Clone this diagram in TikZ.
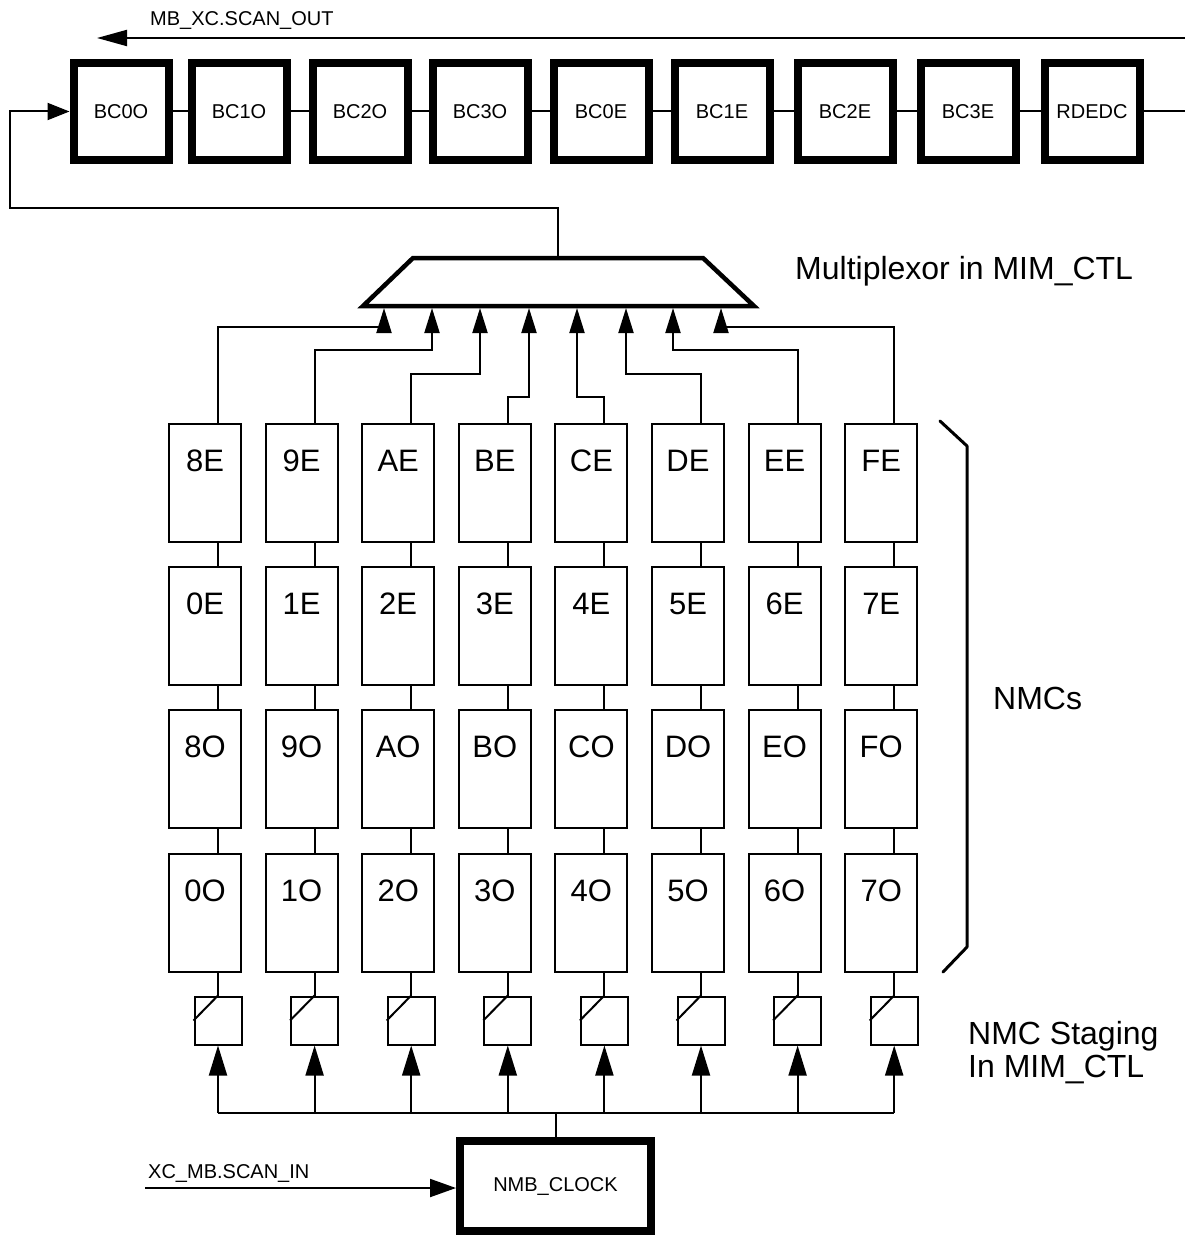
\documentclass[tikz,border=0pt]{standalone}
\usepackage{fontspec}
\setmainfont{Liberation Sans}
\usetikzlibrary{arrows.meta,calc}
\begin{document}
\begin{tikzpicture}[x=1pt,y=-1pt,
  wire/.style={line width=2pt},
  smallfont/.style={font=\fontsize{20}{24}\selectfont},
  bigfont/.style={font=\fontsize{32}{38}\selectfont},
  bcbox/.style={draw, line width=8pt, minimum width=95pt, minimum height=97pt, inner sep=0pt, smallfont},
  clkbox/.style={draw, line width=8pt, minimum width=191pt, minimum height=90pt, inner sep=0pt, smallfont},
  nmcbox/.style={draw, line width=2pt, minimum width=72pt, minimum height=118pt, inner sep=0pt},
  nmclbl/.style={font=\fontsize{31}{36}\selectfont, inner sep=0pt},
  stagebox/.style={draw, line width=2pt, minimum width=47pt, minimum height=48pt, inner sep=0pt},
  muxarrow/.style={wire, -{Triangle[length=25pt,width=15pt]}},
  stagearrow/.style={wire, -{Triangle[length=30pt,width=18pt]}},
  inarrow/.style={wire, -{Triangle[length=26pt,width=18pt]}},
  lbl/.style={anchor=base west, inner sep=0pt}
]
\useasboundingbox (0,0) rectangle (1185,1236);

% ---- top scan chain ----
\foreach \n/\x [count=\i] in {BC0O/121, BC1O/239, BC2O/360, BC3O/480, BC0E/601, BC1E/722, BC2E/845, BC3E/968, RDEDC/1092}
  \node[bcbox] (bc\i) at (\x,111.5) {\n};
\foreach \i [evaluate=\i as \j using int(\i+1)] in {1,...,8}
  \draw[wire] (bc\i) -- (bc\j);
\coordinate (chainR) at (1185,111.5);
\draw[wire] (bc9.east) -- (chainR);

\coordinate (soR) at (1185,38);
\coordinate (soL) at (97,38);
\draw[wire, -{Triangle[length=30pt,width=16pt]}] (soR) -- (soL);
\node[lbl, smallfont] (solbl) at (150,25.5) {MB\_XC.SCAN\_OUT};

% ---- multiplexor ----
\coordinate (mTL) at (413,258);
\coordinate (mTR) at (703,258);
\coordinate (mBR) at (754,306);
\coordinate (mBL) at (363,306);
\draw[line width=4.5pt, line join=miter] (mTL) -- (mTR) -- (mBR) -- (mBL) -- cycle;
\coordinate (muxout) at (558,258);
\coordinate (fbA) at (10,208);
\draw[wire, -{Triangle[length=22pt,width=17pt]}] (muxout) |- (fbA) |- (bc1.west);
\node[lbl, bigfont] (muxlbl) at (795,279) {Multiplexor in MIM\_CTL};

% ---- NMC grid ----
\foreach \a/\b/\c/\d/\mx/\lv [count=\i] in {8E/0E/8O/0O/384/327, 9E/1E/9O/1O/432/350, AE/2E/AO/2O/480/374, BE/3E/BO/3O/529/397, CE/4E/CO/4O/577/397, DE/5E/DO/5O/626/374, EE/6E/EO/6O/673/350, FE/7E/FO/7O/721/327} {
  \pgfmathsetmacro\cx{205+96.6*(\i-1)}
  \pgfmathsetmacro\wx{\cx+13}
  \node[nmcbox] (n\i-1) at (\cx,482.5) {};
  \node[nmcbox] (n\i-2) at (\cx,625.5) {};
  \node[nmcbox] (n\i-3) at (\cx,768.5) {};
  \node[nmcbox] (n\i-4) at (\cx,912.5) {};
  \node[nmclbl] (t\i-1) at ([yshift=-38pt]n\i-1.north) {\a};
  \node[nmclbl] (t\i-2) at ([yshift=-38pt]n\i-2.north) {\b};
  \node[nmclbl] (t\i-3) at ([yshift=-38pt]n\i-3.north) {\c};
  \node[nmclbl] (t\i-4) at ([yshift=-38pt]n\i-4.north) {\d};
  \node[stagebox] (s\i) at (\wx,1020.5) {};
  \draw[wire] (s\i.west) -- (s\i.north);
  \draw[wire] (n\i-1.south -| s\i.north) -- (n\i-2.north -| s\i.north);
  \draw[wire] (n\i-2.south -| s\i.north) -- (n\i-3.north -| s\i.north);
  \draw[wire] (n\i-3.south -| s\i.north) -- (n\i-4.north -| s\i.north);
  \draw[wire] (n\i-4.south -| s\i.north) -- (s\i.north);
  \coordinate (jog\i) at (\mx,\lv);
  \coordinate (mi\i) at (\mx,308);
  \draw[muxarrow] (n\i-1.north -| s\i.north) |- (jog\i) -- (mi\i);
  \coordinate (bus\i) at (\wx,1113);
  \draw[stagearrow] (bus\i) -- (s\i.south);
}
\draw[wire] (bus1) -- (bus8);

% ---- bracket and labels ----
\draw[line width=3pt, line join=round, line cap=round] (940,421) -- (967,446) -- (967,947) -- (943,972);
\node[lbl, bigfont] (nmcs) at (993,709) {NMCs};
\node[lbl, bigfont] (stg1) at (968,1044) {NMC Staging};
\node[lbl, bigfont] (stg2) at (968,1077) {In MIM\_CTL};

% ---- clock ----
\node[clkbox] (clk) at (555.5,1186) {NMB\_CLOCK};
\draw[wire] (clk.north) -- (clk.north |- bus1);
\coordinate (sin) at (145,1188);
\draw[inarrow] (sin) -- (sin -| clk.west);
\node[lbl, smallfont] (sinlbl) at (148,1178) {XC\_MB.SCAN\_IN};
\end{tikzpicture}
\end{document}
